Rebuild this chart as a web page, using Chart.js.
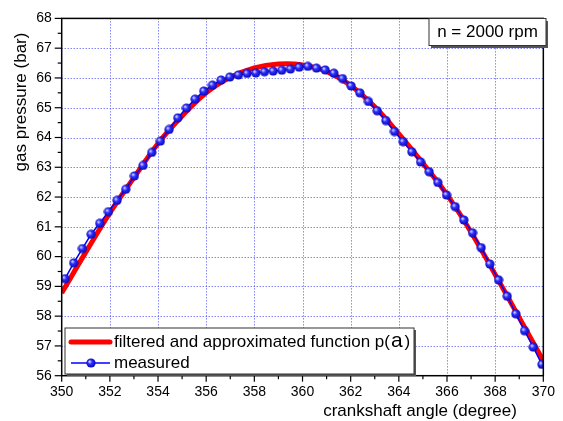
<!DOCTYPE html>
<html>
<head>
<meta charset="utf-8">
<script src="https://cdn.jsdelivr.net/npm/chart.js"></script>
<style>
html, body { margin: 0; padding: 0; background: #fff; }
#wrap { width: 563px; height: 421px; position: relative; }
</style>
</head>
<body>
<div id="wrap"><canvas id="pressureChart"></canvas></div>
<script>
// measured samples (crank angle, pressure)
var angles = [350.14, 350.50, 350.86, 351.22, 351.58, 351.94, 352.30, 352.66, 353.02, 353.38,
              353.74, 354.10, 354.46, 354.82, 355.18, 355.54, 355.90, 356.26, 356.62, 356.98,
              357.34, 357.70, 358.06, 358.42, 358.78, 359.14, 359.50, 359.86, 360.22, 360.58,
              360.94, 361.30, 361.66, 362.02, 362.38, 362.74, 363.10, 363.46, 363.82, 364.18,
              364.54, 364.90, 365.26, 365.62, 365.98, 366.34, 366.70, 367.06, 367.42, 367.78,
              368.14, 368.50, 368.86, 369.22, 369.58, 369.94];
var measured = [59.26, 59.79, 60.27, 60.75, 61.12, 61.51, 61.89, 62.26, 62.71, 63.06,
                63.50, 63.88, 64.27, 64.66, 64.99, 65.29, 65.56, 65.76, 65.93, 66.03,
                66.10, 66.15, 66.17, 66.21, 66.23, 66.26, 66.30, 66.36, 66.39, 66.33,
                66.27, 66.16, 65.98, 65.73, 65.50, 65.21, 64.90, 64.57, 64.20, 63.86,
                63.52, 63.18, 62.85, 62.49, 62.07, 61.68, 61.23, 60.80, 60.30, 59.75,
                59.22, 58.67, 58.08, 57.51, 56.96, 56.38];

// filtered / approximated curve
var fitAngles = [350, 351, 352, 353, 354, 355, 356, 357, 358, 359, 360,
                 361, 362, 363, 364, 365, 366, 367, 368, 369, 370];
var fitted = [58.78, 60.15, 61.47, 62.65, 63.80, 64.72, 65.50, 66.02, 66.34, 66.47, 66.44,
              66.22, 65.75, 65.03, 64.12, 63.13, 62.08, 60.82, 59.40, 57.95, 56.50];

var xTicks = [350, 352, 354, 356, 358, 360, 362, 364, 366, 368, 370];
var yTicks = [56, 57, 58, 59, 60, 61, 62, 63, 64, 65, 66, 67, 68];

var FONT = '"Liberation Sans", Arial, sans-serif';

// little shaded ball used as point marker
var ball = document.createElement('canvas');
ball.width = 10; ball.height = 10;
(function () {
    var c = ball.getContext('2d');
    var g = c.createRadialGradient(3.5, 3.5, 0.5, 5, 5, 5);
    g.addColorStop(0, '#d0d0ff');
    g.addColorStop(0.35, '#3030ff');
    g.addColorStop(1, '#0000b0');
    c.fillStyle = g;
    c.beginPath();
    c.arc(5, 5, 4.6, 0, Math.PI * 2);
    c.fill();
})();

function toXY(xs, ys) {
    return xs.map(function (x, i) { return { x: x, y: ys[i] }; });
}

var decor = {
    id: 'decor',
    beforeDatasetsDraw: function (chart) {
        var ctx = chart.ctx, a = chart.chartArea;
        var sx = chart.scales.x, sy = chart.scales.y;
        ctx.save();
        ctx.strokeStyle = '#4a4aff';
        ctx.lineWidth = 1;
        ctx.setLineDash([1, 2]);
        xTicks.slice(1, -1).forEach(function (v) {
            var px = Math.round(sx.getPixelForValue(v)) + 0.5;
            ctx.beginPath(); ctx.moveTo(px, a.top); ctx.lineTo(px, a.bottom); ctx.stroke();
        });
        yTicks.slice(1, -1).forEach(function (v) {
            var py = Math.round(sy.getPixelForValue(v)) + 0.5;
            ctx.beginPath(); ctx.moveTo(a.left, py); ctx.lineTo(a.right, py); ctx.stroke();
        });
        ctx.restore();
    },
    afterDraw: function (chart) {
        var ctx = chart.ctx, a = chart.chartArea;
        var sx = chart.scales.x, sy = chart.scales.y;
        ctx.save();
        ctx.strokeStyle = '#000';
        ctx.lineWidth = 1.5;
        ctx.strokeRect(a.left, a.top, a.right - a.left, a.bottom - a.top);

        // ticks
        ctx.lineWidth = 1.2;
        for (var d = 350; d <= 370; d++) {
            var px = sx.getPixelForValue(d);
            var len = d % 2 === 0 ? 6 : 3.5;
            ctx.beginPath(); ctx.moveTo(px, a.bottom); ctx.lineTo(px, a.bottom + len); ctx.stroke();
        }
        for (var p = 56; p <= 68; p += 0.5) {
            var py = sy.getPixelForValue(p);
            var ln = p % 1 === 0 ? 7 : 4;
            ctx.beginPath(); ctx.moveTo(a.left, py); ctx.lineTo(a.left - ln, py); ctx.stroke();
        }

        // axis titles
        ctx.fillStyle = '#000';
        ctx.font = '17px ' + FONT;
        ctx.textAlign = 'center';
        ctx.textBaseline = 'middle';
        ctx.fillText('crankshaft angle (degree)', 420, 411);
        ctx.save();
        ctx.translate(21, 102);
        ctx.rotate(-Math.PI / 2);
        ctx.fillText('gas pressure (bar)', 0, 0);
        ctx.restore();

        // speed label box
        ctx.fillStyle = '#555';
        ctx.fillRect(431, 21, 117, 27);
        ctx.fillStyle = '#fff';
        ctx.fillRect(429, 18.5, 117, 27);
        ctx.strokeStyle = '#333';
        ctx.lineWidth = 1;
        ctx.strokeRect(429, 18.5, 117, 27);
        ctx.fillStyle = '#000';
        ctx.font = '17px ' + FONT;
        ctx.fillText('n = 2000 rpm', 487.5, 32.5);

        // legend box
        ctx.fillStyle = '#555';
        ctx.fillRect(67, 330, 349, 46);
        ctx.fillStyle = '#fff';
        ctx.fillRect(65, 328, 349, 46);
        ctx.strokeStyle = '#333';
        ctx.strokeRect(65, 328, 349, 46);

        ctx.strokeStyle = '#ff0000';
        ctx.lineWidth = 5;
        ctx.lineCap = 'round';
        ctx.beginPath(); ctx.moveTo(71, 342); ctx.lineTo(110, 342); ctx.stroke();
        ctx.lineCap = 'butt';
        ctx.strokeStyle = '#0000ff';
        ctx.lineWidth = 1.5;
        ctx.beginPath(); ctx.moveTo(71, 363); ctx.lineTo(110, 363); ctx.stroke();
        ctx.drawImage(ball, 86, 358, 10, 10);

        ctx.fillStyle = '#000';
        ctx.textAlign = 'left';
        ctx.font = '17px ' + FONT;
        var t1 = 'filtered and approximated function p(';
        ctx.fillText(t1, 114, 342);
        var w1 = ctx.measureText(t1).width;
        ctx.font = '21px ' + FONT;
        ctx.fillText('a', 114 + w1 + 1, 341);
        var w2 = ctx.measureText('a').width;
        ctx.font = '17px ' + FONT;
        ctx.fillText(')', 114 + w1 + w2 + 3, 342);
        ctx.fillText('measured', 114, 363);
        ctx.restore();
    }
};

var ctx_p = document.getElementById('pressureChart');
var pressureChart = new Chart(ctx_p, {
    type: 'line',
    data: {
        datasets: [{
            label: 'measured',
            data: toXY(angles, measured),
            borderColor: '#0000ff',
            borderWidth: 1.5,
            pointStyle: ball,
            pointRadius: 5,
            tension: 0
        }, {
            label: 'filtered and approximated function p(a)',
            data: toXY(fitAngles, fitted),
            borderColor: '#ff0000',
            borderWidth: 5,
            pointRadius: 0,
            tension: 0.4
        }]
    },
    options: {
        responsive: true,
        maintainAspectRatio: false,
        animation: false,
        layout: { padding: { top: 15.7, right: 16.3, left: 0, bottom: 0 } },
        plugins: { legend: { display: false }, tooltip: { enabled: false } },
        scales: {
            x: {
                type: 'linear', min: 350, max: 370,
                ticks: { stepSize: 2, color: '#000', padding: 8, font: { family: FONT, size: 14 } },
                grid: { display: false, drawTicks: false },
                border: { display: false },
                afterFit: function (s) { s.height = 45.3; }
            },
            y: {
                type: 'linear', min: 56, max: 68,
                ticks: { stepSize: 1, color: '#000', padding: 10, font: { family: FONT, size: 14 } },
                grid: { display: false, drawTicks: false },
                border: { display: false },
                afterFit: function (s) { s.width = 61.7; }
            }
        }
    },
    plugins: [decor]
});
</script>
</body>
</html>
